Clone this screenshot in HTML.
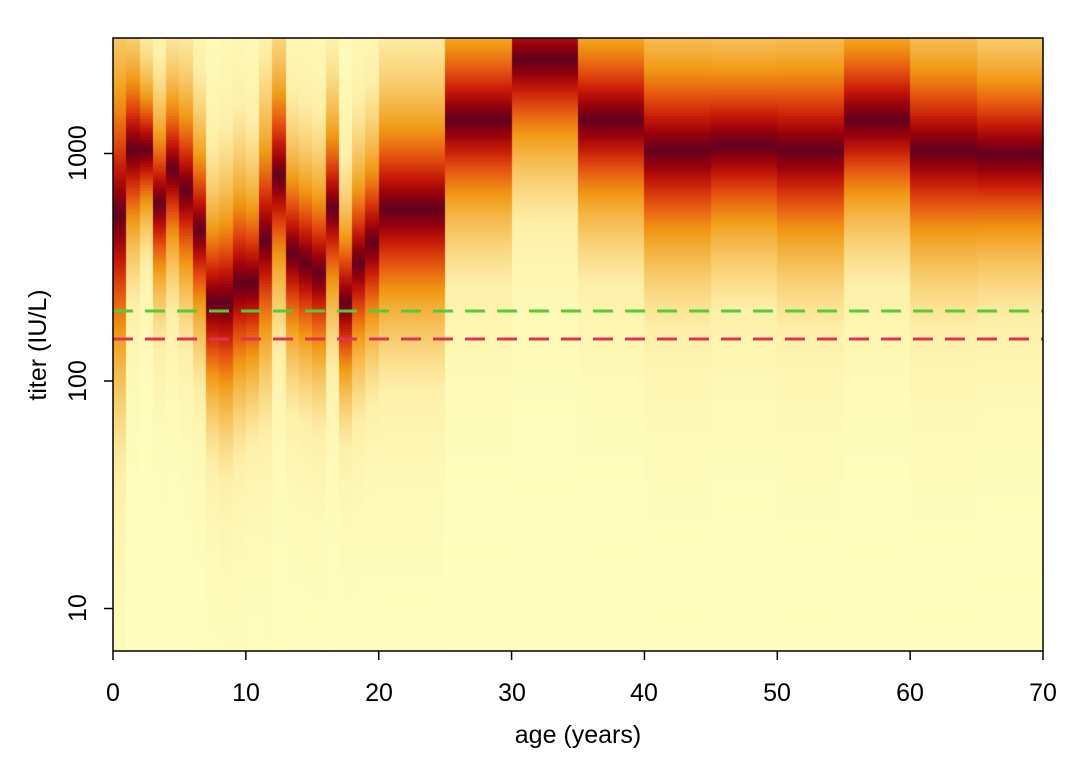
<!DOCTYPE html>
<html><head><meta charset="utf-8"><style>
html,body{margin:0;padding:0;background:#fff;}
#c{position:absolute;left:0;top:0;}
svg{position:absolute;left:0;top:0;}
text{font-family:"Liberation Sans",sans-serif;fill:#000;}
</style></head><body>
<canvas id="c" width="1075" height="768"></canvas>
<svg width="1075" height="768" xmlns="http://www.w3.org/2000/svg">
<line x1="113" y1="311" x2="1043" y2="311" stroke="#55CC33" stroke-width="3" stroke-dasharray="20,12"/>
<line x1="113" y1="339" x2="1043" y2="339" stroke="#DD3355" stroke-width="3" stroke-dasharray="20,12"/>
<rect x="113" y="38" width="930" height="613" fill="none" stroke="#000" stroke-width="1.5"/>
<g stroke="#000" stroke-width="1.5" id="ticks"></g>
<g font-size="25" text-anchor="middle">
<text x="113" y="701">0</text><text x="246" y="701">10</text><text x="379" y="701">20</text>
<text x="512" y="701">30</text><text x="644" y="701">40</text><text x="777" y="701">50</text>
<text x="910" y="701">60</text><text x="1043" y="701">70</text>
<text x="578" y="743">age (years)</text>
<text transform="translate(86,608) rotate(-90)">10</text>
<text transform="translate(86,381) rotate(-90)">100</text>
<text transform="translate(86,153) rotate(-90)">1000</text>
<text transform="translate(46,345) rotate(-90)">titer (IU/L)</text>
</g>
</svg>
<script>
(function(){
var ctx=document.getElementById('c').getContext('2d');
ctx.fillStyle='#fff';ctx.fillRect(0,0,1075,768);
var stops=[[0,[254,254,190]],[0.15,[253,239,168]],[0.3,[247,195,94]],[0.45,[240,154,20]],[0.6,[229,84,16]],[0.75,[197,26,6]],[0.88,[149,0,12]],[1,[98,0,31]]];
function col(v){v=Math.max(0,Math.min(1,v));for(var i=1;i<stops.length;i++){if(v<=stops[i][0]){var a=stops[i-1],b=stops[i],t=(v-a[0])/(b[0]-a[0]);return 'rgb('+[0,1,2].map(function(k){return Math.round(a[1][k]+(b[1][k]-a[1][k])*t)}).join(',')+')';}}return 'rgb(98,0,31)';}
var x0=113,x1=1043,px=(x1-x0)/70,yt=38,yb=651;
var yr=[[215,80],[150,48],[150,36],[203,45],[170,45],[190,50],[230,50],[303,50],[303,55],[283,55],[283,50],[240,60],[176,55],[253,50],[263,50],[273,50],[209,50],[303,45],[263,50],[243,50]];
var cols=[];
for(var i=0;i<20;i++)cols.push([i,i+1,yr[i][0],yr[i][1]*0.9]);
var five=[[210,50],[120,46],[60,46],[120,46],[150,50],[145,46],[150,50],[120,46],[150,50],[155,46]];
for(var j=0;j<10;j++)cols.push([20+5*j,25+5*j,five[j][0],five[j][1]]);
cols.forEach(function(c){
 var xa=Math.round(x0+c[0]*px),xb=Math.round(x0+c[1]*px);
 for(var y=yt;y<yb;y+=3){
  var d=Math.abs(y+1.5-c[2])/(2*c[3]);var v=Math.exp(-Math.pow(d,1.1));
  ctx.fillStyle=col(v);ctx.fillRect(xa,y,xb-xa,Math.min(3,yb-y));
 }
});
var g=document.getElementById('ticks'),s='';
for(var a=0;a<=70;a+=10){var x=x0+a*px;s+='<line x1="'+x+'" y1="651" x2="'+x+'" y2="660"/>';}
function ly(v){return 381-227.5*(Math.log10(v)-2);}
[10,100,1000].forEach(function(v){var y=ly(v);s+='<line x1="113" y1="'+y+'" x2="104" y2="'+y+'"/>';});
g.innerHTML=s;
})();
</script>
</body></html>
